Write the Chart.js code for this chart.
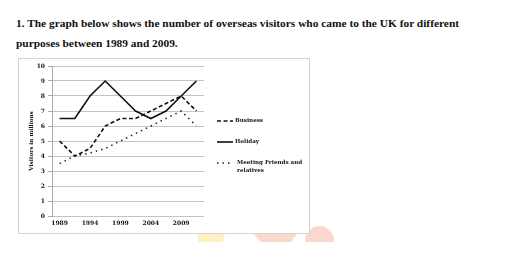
<!DOCTYPE html>
<html>
<head>
<meta charset="utf-8">
<script src="https://cdn.jsdelivr.net/npm/chart.js@4.4.0/dist/chart.umd.min.js"></script>
<style>
  html, body { margin: 0; padding: 0; background: #fff; width: 512px; height: 257px; overflow: hidden; }
  .title { position: absolute; left: 16px; font-family: "Liberation Serif", "Times New Roman", serif; font-weight: bold; font-size: 11.4px; color: #111; white-space: nowrap; }
  #frame { position: absolute; left: 18px; top: 58px; width: 290px; height: 174px; border: 1px solid #d4d4d4; background: #fff; z-index: 2; }
  #frame canvas { position: absolute; left: 0; top: 0; }
  .wm { position: absolute; z-index: 1; }
</style>
</head>
<body>
<div class="title" style="top:17px;">1. The graph below shows the number of overseas visitors who came to the UK for different</div>
<div class="title" style="top:37px;">purposes between 1989 and 2009.</div>

<div class="wm" style="left:197px; top:232px; width:28px; height:10px; background:#fdf1c4; clip-path: polygon(0 0,100% 0,92% 100%,6% 100%);"></div>
<div class="wm" style="left:252px; top:232px; width:46px; height:10px; background:#fcd7cf; clip-path: polygon(0 0,100% 0,85% 100%,20% 100%);"></div>
<div class="wm" style="left:305px; top:226px; width:29px; height:16px; background:#fcd7cf; border-radius: 15px 15px 0 0;"></div>

<div id="frame"><canvas id="c" width="290" height="174"></canvas></div>

<script>
const categories = ['1989', '', '1994', '', '1999', '', '2004', '', '2009', ''];
const business = [5, 4, 4.5, 6, 6.5, 6.5, 7, 7.5, 8, 7];
const holiday = [6.5, 6.5, 8, 9, 8, 7, 6.5, 7, 8, 9];
const meeting = [3.5, 4, 4.2, 4.5, 5, 5.5, 6, 6.5, 7, 6];
const yTicks = [0, 1, 2, 3, 4, 5, 6, 7, 8, 9, 10];
const seriesNames = ['Business', 'Holiday', ['Meeting Friends and', 'relatives']];

const FONT = '"DejaVu Serif", "Liberation Serif", serif';

const legendPlugin = {
  id: 'sideLegend',
  afterDraw(chart) {
    const ctx = chart.ctx;
    const rows = [62, 83, 104];
    ctx.save();
    chart.data.datasets.forEach((ds, i) => {
      const y = rows[i];
      ctx.strokeStyle = ds.borderColor;
      ctx.lineWidth = ds.borderWidth;
      ctx.setLineDash(ds.borderDash || []);
      ctx.beginPath();
      ctx.moveTo(198, y);
      ctx.lineTo(214, y);
      ctx.stroke();
      ctx.setLineDash([]);
      ctx.fillStyle = '#111';
      ctx.font = 'bold 5.6px ' + FONT;
      ctx.textBaseline = 'middle';
      ctx.textAlign = 'left';
      const name = seriesNames[i];
      const lines = Array.isArray(name) ? name : [name];
      lines.forEach((t, k) => ctx.fillText(t, i === 2 ? 218 : 216, y + k * 8));
    });
    ctx.restore();
  }
};

new Chart(document.getElementById('c'), {
  type: 'line',
  data: {
    labels: categories,
    datasets: [
      { label: 'Business', data: business, borderColor: '#111', borderWidth: 1.6, borderDash: [4, 2.5], pointRadius: 0, tension: 0, fill: false },
      { label: 'Holiday', data: holiday, borderColor: '#111', borderWidth: 1.6, pointRadius: 0, tension: 0, fill: false },
      { label: 'Meeting Friends and relatives', data: meeting, borderColor: '#222', borderWidth: 1.5, borderDash: [1.5, 4], pointRadius: 0, tension: 0, fill: false }
    ]
  },
  options: {
    responsive: false,
    animation: false,
    layout: { padding: { left: 0, right: 105, top: 7, bottom: 0 } },
    plugins: { legend: { display: false }, tooltip: { enabled: false } },
    scales: {
      x: {
        offset: true,
        grid: { display: false, drawTicks: false },
        border: { display: false },
        ticks: { autoSkip: false, maxRotation: 0, color: '#111', font: { family: FONT, size: 6, weight: 'bold' }, padding: 4 },
        afterFit(s) { s.height = 17; }
      },
      y: {
        min: 0, max: 10,
        afterBuildTicks(s) { s.ticks = yTicks.map(v => ({ value: v })); },
        grid: { color: '#c4c4c4', lineWidth: 1, drawTicks: true, tickLength: 4, tickColor: '#aaa' },
        border: { display: true, color: '#aaa', width: 1 },
        ticks: { color: '#111', font: { family: FONT, size: 6, weight: 'bold' }, padding: 3 },
        title: { display: true, text: 'Visitors in millions', color: '#111', font: { family: FONT, size: 5.6, weight: 'bold' }, padding: { top: 9, bottom: 0 } },
        afterFit(s) { s.width = 33; }
      }
    }
  },
  plugins: [legendPlugin]
});
</script>
</body>
</html>
